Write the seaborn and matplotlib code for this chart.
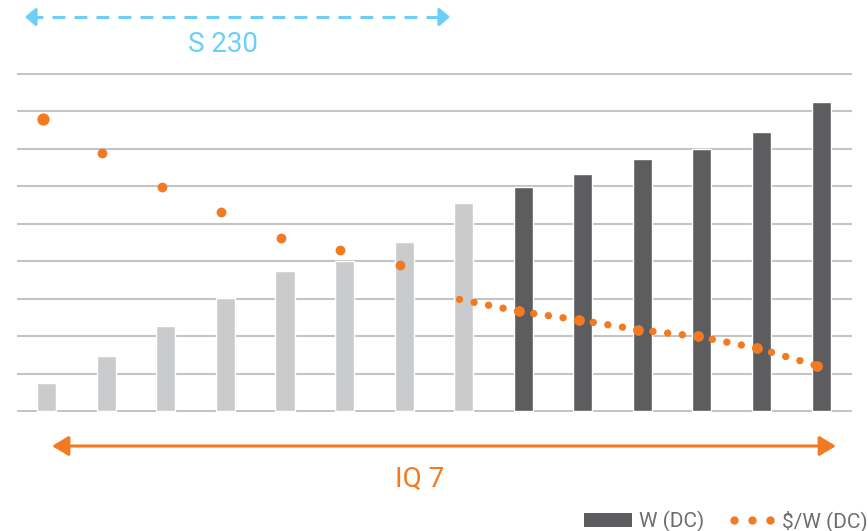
import numpy as np
import pandas as pd
import matplotlib
matplotlib.use("Agg")
import matplotlib.pyplot as plt
from matplotlib.lines import Line2D
from matplotlib.patches import Patch
import seaborn as sns

# ── Data (in gridline units) ─────────────────────────────────────────────────
bar_heights = [0.75, 1.47, 2.27, 3.02, 3.74, 4.01, 4.52, 5.55,
               5.99, 6.34, 6.74, 7.00, 7.46, 8.24]
bar_group = ["S 230"] * 8 + ["IQ 7"] * 6
price_s230 = [7.80, 6.89, 5.98, 5.31, 4.63, 4.29, 3.90]
price_iq7 = [2.98, 2.66, 2.43, 2.17, 1.99, 1.68, 1.21]
iq7_start = 7  # index of first bar carrying the IQ 7 price curve

legend_labels = ["W (DC)", "$/W (DC)"]

# ── Style ────────────────────────────────────────────────────────────────────
ORANGE = "#F47A21"
BLUE = "#6DCFF6"
LIGHT = "#CACBCD"
DARK = "#5D5D5F"
GRID = "#C4C4C4"
TEXT = "#6D6E71"
DOT_SHIFT = -0.07  # price dots sit a hair left of the bar centres

sns.set_theme(style="white")
plt.rcParams["font.family"] = ["Roboto", "DejaVu Sans"]

W, H = 868, 531
fig = plt.figure(figsize=(W / 100, H / 100), dpi=100)

# axes box in pixels: gridlines from y=74 to y=411, x from 17 to 852
pad = 0.03
unit = (411 - 74) / 9
top_px, bot_px = 74 - pad * unit, 411 + pad * unit
ax = fig.add_axes([17 / W, (H - bot_px) / H, (852 - 17) / W, (bot_px - top_px) / H])

df = pd.DataFrame({
    "pos": np.arange(len(bar_heights)),
    "height": bar_heights,
    "group": bar_group,
})
sns.barplot(data=df, x="pos", y="height", hue="group",
            palette={"S 230": LIGHT, "IQ 7": DARK},
            width=0.32, dodge=False, legend=False, ax=ax, zorder=2)

# S 230 price dots
x_s = np.arange(len(price_s230)) + DOT_SHIFT
sns.scatterplot(x=x_s[:1], y=price_s230[:1], color=ORANGE, s=78,
                linewidth=0, ax=ax, zorder=4)
sns.scatterplot(x=x_s[1:], y=price_s230[1:], color=ORANGE, s=50,
                linewidth=0, ax=ax, zorder=4)

# IQ 7 price curve: dotted line, one segment per interval so dots line up
x_i = np.arange(iq7_start, iq7_start + len(price_iq7)) + DOT_SHIFT
for i in range(len(price_iq7) - 1):
    ax.plot(x_i[i:i + 2], price_iq7[i:i + 2], color=ORANGE, lw=5.3,
            linestyle=(0, (0.01, 2.0)), dash_capstyle="round",
            solid_capstyle="round", zorder=3)
sns.scatterplot(x=x_i[1:], y=price_iq7[1:], color=ORANGE, s=60,
                linewidth=0, ax=ax, zorder=4)

ax.set_xlim(-0.5, 13.52)
ax.set_ylim(-pad, 9 + pad)
ax.set_yticks(range(10))
ax.set_xticks([])
ax.set_yticklabels([])
ax.set_xlabel("")
ax.set_ylabel("")
ax.grid(axis="y", color=GRID, lw=1.5, zorder=0)
ax.set_axisbelow(True)
sns.despine(ax=ax, left=True, bottom=True)

# ── Range arrows and labels ──────────────────────────────────────────────────
def fig_px(x, y):
    return (x / W, (H - y) / H)

# S 230: dashed blue, drawn as dashed shaft plus two solid heads
fig.add_artist(Line2D([30 / W, 444 / W], [(H - 17) / H] * 2, color=BLUE,
                      lw=2.2, linestyle=(0, (4.2, 3.0))))
for tip, tail in [(25, 36), (450, 439)]:
    fig.add_artist(plt.Annotation(
        "", xy=fig_px(tip, 17), xytext=fig_px(tail, 17),
        xycoords="figure fraction", textcoords="figure fraction",
        arrowprops=dict(arrowstyle="-|>,head_length=0.42,head_width=0.36",
                        mutation_scale=15, color=BLUE, lw=2.2,
                        shrinkA=0, shrinkB=0)))
fig.text(*fig_px(223, 44), "S 230", color=BLUE, fontsize=20,
         ha="center", va="center")

# IQ 7: solid orange double arrow
ax.annotate("", xy=fig_px(52, 446), xytext=fig_px(836, 446),
            xycoords="figure fraction", textcoords="figure fraction",
            arrowprops=dict(arrowstyle="<|-|>,head_length=0.5,head_width=0.3",
                            mutation_scale=20, color=ORANGE, lw=2.2,
                            shrinkA=0, shrinkB=0), annotation_clip=False)
fig.text(*fig_px(420, 479), "IQ 7", color=ORANGE, fontsize=20,
         ha="center", va="center")

# ── Legend ───────────────────────────────────────────────────────────────────
handles = [
    Patch(facecolor=DARK, edgecolor="none"),
    Line2D([], [], color=ORANGE, linestyle="none", marker="o",
           markersize=6, markeredgewidth=0),
]
fig.legend(handles, legend_labels, loc="lower right",
           bbox_to_anchor=(1.002, -0.006), ncol=2, frameon=False,
           fontsize=15, labelcolor=TEXT, numpoints=3,
           handlelength=2.3, handleheight=0.65, handletextpad=0.3,
           columnspacing=1.15, borderaxespad=0.0, borderpad=0.1)

fig.savefig("out.png", dpi=100)
